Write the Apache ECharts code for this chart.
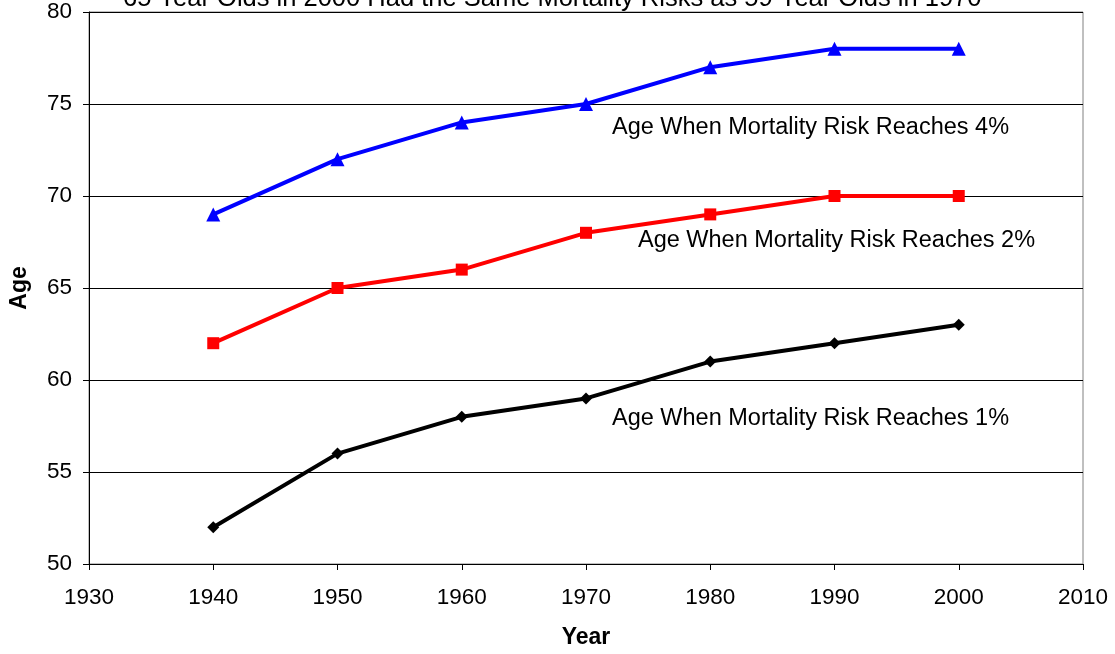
<!DOCTYPE html>
<html><head><meta charset="utf-8">
<script src="https://cdn.jsdelivr.net/npm/echarts@6/dist/echarts.min.js"></script>
<style>html,body{margin:0;padding:0;background:#fff}#c{width:1115px;height:654px}</style>
</head><body><div id="c"></div>
<script>
var years = [1940, 1950, 1960, 1970, 1980, 1990, 2000];
var risk4 = [69, 72, 74, 75, 77, 78, 78];
var risk2 = [62, 65, 66, 68, 69, 70, 70];
var risk1 = [52, 56, 58, 59, 61, 62, 63];
var titleText = '65 Year Olds in 2000 Had the Same Mortality Risks as 59 Year Olds in 1970';
var label4 = 'Age When Mortality Risk Reaches 4%';
var label2 = 'Age When Mortality Risk Reaches 2%';
var label1 = 'Age When Mortality Risk Reaches 1%';

function pairs(v){ return years.map(function(y,i){ return [y, v[i]]; }); }
var FONT = 'Liberation Sans, Arial, sans-serif';
var chart = echarts.init(document.getElementById('c'));
chart.setOption({
  animation: false,
  backgroundColor: '#fff',
  textStyle: { fontFamily: FONT },
  grid: { left: 89, right: 32, top: 12, bottom: 87, show: true, borderColor: '#808080', borderWidth: 1 },
  graphic: [
    { type: 'text', left: 123, top: -14, style: { text: titleText, font: '25.5px ' + FONT, fill: '#000' } },
    { type: 'text', left: 612, top: 116, style: { text: label4, font: '23.5px ' + FONT, fill: '#000' } },
    { type: 'text', left: 638, top: 229, style: { text: label2, font: '23.5px ' + FONT, fill: '#000' } },
    { type: 'text', left: 612, top: 407, style: { text: label1, font: '23.5px ' + FONT, fill: '#000' } }
  ],
  xAxis: {
    type: 'value', min: 1930, max: 2010, interval: 10,
    name: 'Year', nameLocation: 'middle', nameGap: 62,
    nameTextStyle: { fontSize: 23, fontWeight: 'bold', color: '#000', fontFamily: FONT },
    axisLine: { show: true, lineStyle: { color: '#000', width: 1 } },
    axisTick: { show: true, length: 6, lineStyle: { color: '#000' } },
    axisLabel: { fontSize: 22.5, color: '#000', margin: 22, fontFamily: FONT, formatter: function(v){ return String(v); } },
    splitLine: { show: false }
  },
  yAxis: {
    type: 'value', min: 50, max: 80, interval: 5,
    name: 'Age', nameLocation: 'middle', nameGap: 58, nameRotate: 90,
    nameTextStyle: { fontSize: 23, fontWeight: 'bold', color: '#000', fontFamily: FONT },
    axisLine: { show: true, lineStyle: { color: '#000', width: 1 } },
    axisTick: { show: true, length: 6, lineStyle: { color: '#000' } },
    axisLabel: { fontSize: 22.5, color: '#000', margin: 17, fontFamily: FONT },
    splitLine: { show: true, lineStyle: { color: '#000', width: 1 } }
  },
  series: [
    { type: 'line', data: pairs(risk4), symbol: 'triangle', symbolSize: 14,
      lineStyle: { color: '#0000ff', width: 4 }, itemStyle: { color: '#0000ff' } },
    { type: 'line', data: pairs(risk2), symbol: 'rect', symbolSize: 12,
      lineStyle: { color: '#ff0000', width: 4 }, itemStyle: { color: '#ff0000' } },
    { type: 'line', data: pairs(risk1), symbol: 'diamond', symbolSize: 12,
      lineStyle: { color: '#000000', width: 4 }, itemStyle: { color: '#000000' } }
  ]
});
</script></body></html>
